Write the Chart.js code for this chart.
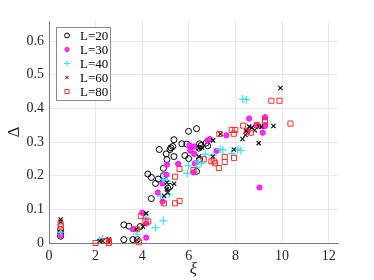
<!DOCTYPE html>
<html>
<head>
<meta charset="utf-8">
<script src="https://cdn.jsdelivr.net/npm/chart.js"></script>
<style>
  body { margin: 0; background: #fff; }
  #wrap { width: 374px; height: 280px; }
</style>
</head>
<body>
<div id="wrap"><canvas id="myScatter" width="374" height="280"></canvas></div>
<script>
// values (xi, Delta) for each system size
const seriesLabels = ['L=20', 'L=30', 'L=40', 'L=60', 'L=80'];
const xTicks = [0, 2, 4, 6, 8, 10, 12];
const yTicks = [0, 0.1, 0.2, 0.3, 0.4, 0.5, 0.6];

const xiL20 = [0.5, 0.5, 0.5, 3.21, 3.43, 3.21, 3.6, 3.79, 3.91, 4.39, 4.24, 4.39, 4.57, 4.69, 4.73, 4.91, 4.91,
  5.03, 5.06, 5.19, 5.23, 5.31, 5.36, 5.36, 5.19, 5.1, 5.7, 5.83, 5.91, 5.99, 5.99, 6.33, 6.33, 6.46, 6.46, 6.53, 6.81, 6.43, 6.74];
const deltaL20 = [0.04, 0.02, 0.03, 0.054, 0.05, 0.01, 0.01, 0.01, 0.049, 0.132, 0.205, 0.195, 0.177, 0.19, 0.278, 0.2, 0.222,
  0.265, 0.248, 0.278, 0.283, 0.287, 0.307, 0.257, 0.168, 0.163, 0.295, 0.26, 0.294, 0.332, 0.251, 0.34, 0.213, 0.295, 0.249, 0.29, 0.289, 0.282, 0.297];

const xiL30 = [0.5, 3.6, 4.0, 4.17, 4.17, 4.67, 4.87, 4.87, 5.04, 5.06, 5.54, 6.03, 6.06, 6.23, 6.23, 6.26, 6.2, 6.81, 6.9, 7.19,
  7.61, 8.59, 9.27, 9.27, 9.17, 8.9, 9.03, 8.53];
const deltaL30 = [0.023, 0.041, 0.09, 0.016, 0.058, 0.15, 0.177, 0.123, 0.203, 0.233, 0.235, 0.29, 0.275, 0.287, 0.265, 0.237, 0.21, 0.305, 0.309, 0.274,
  0.32, 0.37, 0.374, 0.348, 0.328, 0.351, 0.165, 0.333];

const xiL40 = [0.5, 2.17, 2.29, 3.77, 4.13, 4.57, 4.91, 4.79, 4.9, 5.07, 5.16, 5.93, 5.99, 6.31, 6.41, 6.53, 6.71, 7.04, 7.34, 7.46,
  7.84, 8.1, 8.23, 8.31, 8.46];
const deltaL40 = [0.032, 0.008, 0.012, 0.026, 0.076, 0.046, 0.066, 0.139, 0.19, 0.183, 0.145, 0.207, 0.23, 0.225, 0.242, 0.237, 0.264, 0.26, 0.279, 0.277,
  0.266, 0.278, 0.275, 0.428, 0.426];

const xiL60 = [0.5, 0.5, 2.17, 2.3, 2.57, 2.57, 3.74, 4.03, 4.17, 3.77, 4.94, 5.06, 5.06, 5.09, 5.37, 6.43, 6.43, 6.56, 7.03, 7.04, 7.36,
  7.93, 8.3, 8.46, 8.59, 8.7, 8.83, 9.01, 9.11, 9.0, 9.63, 9.93, 8.43];
const deltaL60 = [0.07, 0.063, 0.006, 0.006, 0.012, 0.003, 0.041, 0.049, 0.088, 0.009, 0.14, 0.16, 0.18, 0.15, 0.176, 0.257, 0.282, 0.284, 0.257, 0.305, 0.324,
  0.278, 0.309, 0.334, 0.346, 0.343, 0.335, 0.346, 0.346, 0.297, 0.348, 0.461, 0.321];

const xiL80 = [0.5, 0.5, 2.0, 2.43, 2.57, 2.57, 3.86, 3.77, 3.94, 4.14, 4.26, 4.93, 5.41, 5.6, 5.41, 5.6, 6.2, 6.64, 6.97, 7.07,
  7.13, 7.29, 7.31, 7.54, 7.54, 7.84, 7.99, 7.93, 7.94, 8.33, 8.66, 8.93, 9.26, 9.27, 9.54, 9.89, 10.36, 8.49];
const deltaL80 = [0.056, 0.049, 0.0, 0.006, 0.006, 0.0, 0.002, 0.041, 0.08, 0.064, 0.064, 0.118, 0.118, 0.125, 0.197, 0.22, 0.217, 0.249, 0.243, 0.243,
  0.237, 0.223, 0.324, 0.256, 0.241, 0.336, 0.336, 0.325, 0.253, 0.349, 0.328, 0.35, 0.359, 0.365, 0.423, 0.423, 0.355, 0.331];

function toPoints(xs, ys) {
    return xs.map((x, i) => ({ x: x, y: ys[i] }));
}

const serif = "'Liberation Serif', 'Times New Roman', serif";

// MATLAB-like legend drawn inside the axes (north-west)
const insideLegend = {
    id: 'insideLegend',
    afterDraw(chart) {
        const ctx = chart.ctx;
        const left = 56, top = 27, w = 54, h = 73;
        ctx.save();
        ctx.fillStyle = '#fff';
        ctx.fillRect(left, top, w, h);
        ctx.strokeStyle = '#8a8a8a';
        ctx.lineWidth = 1;
        ctx.strokeRect(left + 0.5, top + 0.5, w, h);
        ctx.font = '13px ' + serif;
        ctx.textBaseline = 'middle';
        chart.data.datasets.forEach((ds, i) => {
            const y = top + 8.5 + i * 14;
            ctx.strokeStyle = ds.borderColor;
            ctx.fillStyle = ds.backgroundColor;
            // legend markers are a bit smaller than the plotted ones
            Chart.helpers.drawPoint(ctx, {
                pointStyle: ds.pointStyle,
                radius: ds.pointRadius * 0.8,
                borderWidth: ds.borderWidth,
                rotation: 0
            }, left + 11, y);
            ctx.fillStyle = '#000';
            ctx.fillText(ds.label, left + 24, y + 1);
        });
        ctx.restore();
    }
};

const ctx = document.getElementById('myScatter');
new Chart(ctx, {
    type: 'scatter',
    data: {
        datasets: [
            {
                label: seriesLabels[0], data: toPoints(xiL20, deltaL20),
                pointStyle: 'circle', pointRadius: 3, borderWidth: 1,
                borderColor: '#000', backgroundColor: 'rgba(0,0,0,0)', order: 5
            },
            {
                label: seriesLabels[1], data: toPoints(xiL30, deltaL30),
                pointStyle: 'circle', pointRadius: 2.6, borderWidth: 1,
                borderColor: '#ff00ff', backgroundColor: '#ff33ff', order: 4
            },
            {
                label: seriesLabels[2], data: toPoints(xiL40, deltaL40),
                pointStyle: 'cross', pointRadius: 4, borderWidth: 1.2,
                borderColor: '#33e6f0', backgroundColor: '#33e6f0', order: 3
            },
            {
                label: seriesLabels[3], data: toPoints(xiL60, deltaL60),
                pointStyle: 'crossRot', pointRadius: 3, borderWidth: 1.2,
                borderColor: '#111', backgroundColor: '#111', order: 2
            },
            {
                label: seriesLabels[4], data: toPoints(xiL80, deltaL80),
                pointStyle: 'rect', pointRadius: 3.6, borderWidth: 1,
                borderColor: '#ff2b2b', backgroundColor: 'rgba(0,0,0,0)', order: 1
            }
        ]
    },
    options: {
        responsive: false,
        animation: false,
        devicePixelRatio: 1,
        clip: false,
        layout: { padding: { left: 0, right: 36, top: 21, bottom: 0 } },
        elements: { point: { hoverRadius: 3 } },
        scales: {
            x: {
                type: 'linear', min: 0, max: 12.4,
                afterFit: (scale) => { scale.height = 37; },
                afterBuildTicks: (scale) => { scale.ticks = xTicks.map(v => ({ value: v })); },
                grid: { color: '#e8e8e8', drawTicks: false },
                border: { display: true, color: '#7a7a7a' },
                ticks: { padding: 5, color: '#262626', font: { family: serif, size: 14 } },
                title: { display: true, text: 'ξ', color: '#262626', padding: { top: 0, bottom: 0 },
                         font: { family: serif, size: 17, style: 'italic' } }
            },
            y: {
                type: 'linear', min: 0, max: 0.66,
                afterFit: (scale) => { scale.width = 49; },
                afterBuildTicks: (scale) => { scale.ticks = yTicks.map(v => ({ value: v })); },
                grid: { color: '#e8e8e8', drawTicks: false },
                border: { display: true, color: '#7a7a7a' },
                ticks: { padding: 5, color: '#262626', font: { family: serif, size: 14 },
                         callback: (v) => String(v) },
                title: { display: true, text: 'Δ', color: '#262626', padding: { top: 4, bottom: 0 },
                         font: { family: serif, size: 17 } }
            }
        },
        plugins: {
            legend: { display: false },
            tooltip: { enabled: false }
        }
    },
    plugins: [insideLegend]
});
</script>
</body>
</html>
